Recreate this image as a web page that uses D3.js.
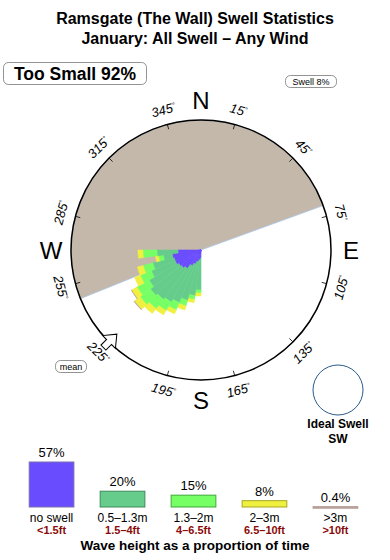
<!DOCTYPE html>
<html>
<head>
<meta charset="utf-8">
<script src="https://cdn.jsdelivr.net/npm/d3@7/dist/d3.min.js"></script>
<style>
  body { margin: 0; background: #fff; }
  svg text { font-family: "Liberation Sans", Arial, Helvetica, sans-serif; }
</style>
</head>
<body>
<div id="chartContainer"></div>
<script>
// swell direction bins (bearing the swell comes from, bin centre, degrees)
const bearings = [183.75, 191.25, 198.75, 206.25, 213.75, 221.25, 228.75, 236.25, 243.75, 251.25, 258.75, 266.25];
const binWidth = 7.5;

// stacked rose values per bin, one array per wave height band
const noSwell   = [6.2, 7.7, 9.2, 11.5, 13.8, 17.7, 19.2, 20.0, 21.5, 21.5, 22.3, 17.7];
const band05_13 = [24.6, 27.7, 30.8, 32.3, 32.3, 30.0, 30.0, 26.2, 20.0, 16.9, 6.9, 16.2];
const band13_2  = [2.3, 3.1, 4.6, 6.2, 7.7, 9.2, 10.0, 10.8, 9.2, 7.7, 3.8, 10.8];
const band2_3   = [2.3, 2.3, 3.1, 3.1, 3.8, 4.6, 5.4, 4.6, 4.6, 4.6, 2.3, 3.8];
const band3up   = [0, 0, 0, 0, 0, 0, 0.4, 0.3, 0, 0, 0, 0];

// legend
const bandLabels = ["no swell", "0.5\u20131.3m", "1.3\u20132m", "2\u20133m", ">3m"];
const bandFeet = ["<1.5ft", "1.5\u20134ft", "4\u20136.5ft", "6.5\u201310ft", ">10ft"];
const bandShare = [57, 20, 15, 8, 0.4];
const bandShareText = ["57%", "20%", "15%", "8%", "0.4%"];

// compass
const cardinals = ["N", "E", "S", "W"];
const cardinalAngles = [0, 90, 180, 270];
const degreeTicks = [15, 45, 75, 105, 135, 165, 195, 225, 255, 285, 315, 345];

// shadowed (land) sector, degrees clockwise from 248 to 70
const shadowFrom = 248;
const shadowTo = 430;
const meanDirection = 225;
const tooSmall = 92;
const swellShare = 8;

const width = 390, height = 560;
const cx = 201, cy = 250, R = 130;
const colors = ["#6a4cff", "#66cc8c", "#77ff66", "#f0f040", "#c8aaa0"];
const strokes = ["#7a70b0", "#3f8a5a", "#3fa83a", "#a8a820", "#b09890"];
const rad = (d) => d * Math.PI / 180;

const svg = d3.select("#chartContainer")
  .append("svg")
  .attr("width", width)
  .attr("height", height);

//Title
svg.append("text")
  .attr("x", 195).attr("y", 24)
  .attr("text-anchor", "middle")
  .attr("font-size", 16).attr("font-weight", "bold")
  .text("Ramsgate (The Wall) Swell Statistics");
svg.append("text")
  .attr("x", 195).attr("y", 44)
  .attr("text-anchor", "middle")
  .attr("font-size", 16).attr("font-weight", "bold")
  .text("January: All Swell \u2013 Any Wind");

//Boxed labels
function boxLabel(x, y, w, h, size, weight, txt) {
  svg.append("rect")
    .attr("x", x).attr("y", y).attr("width", w).attr("height", h)
    .attr("rx", 5).attr("fill", "#fff").attr("stroke", "#777").attr("stroke-width", 0.8);
  svg.append("text")
    .attr("x", x + w / 2).attr("y", y + h / 2)
    .attr("dy", "0.36em")
    .attr("text-anchor", "middle")
    .attr("font-size", size).attr("font-weight", weight)
    .text(txt);
}
boxLabel(3.5, 62.5, 143, 22, 17.5, "bold", `Too Small ${tooSmall}%`);
boxLabel(285.5, 75.5, 51, 12, 9, "normal", `Swell ${swellShare}%`);
boxLabel(55.5, 360.5, 31, 12, 9, "normal", "mean");

const g = svg.append("g").attr("transform", `translate(${cx},${cy})`);

//Shadow sector
const arc = d3.arc();
g.append("path")
  .attr("d", arc({ innerRadius: 0, outerRadius: R, startAngle: rad(shadowFrom), endAngle: rad(shadowTo) }))
  .attr("fill", "#c4b8ab")
  .attr("stroke", "#a9c8e8").attr("stroke-width", 0.8);

//Rose
const rScale = d3.scaleLinear().domain([0, 100]).range([0, R]);
const bands = [noSwell, band05_13, band13_2, band2_3, band3up];
const stack = [];
bearings.forEach((b, i) => {
  let acc = 0;
  bands.forEach((band, k) => {
    const v = band[i];
    if (v > 0) stack.push({ b, k, r0: acc, r1: acc + v });
    acc += v;
  });
});
g.append("g")
  .selectAll("path")
  .data(stack)
  .enter()
  .append("path")
  .attr("d", (d) => arc({
    innerRadius: rScale(d.r0), outerRadius: rScale(d.r1),
    startAngle: rad(d.b - binWidth / 2), endAngle: rad(d.b + binWidth / 2)
  }))
  .attr("fill", (d) => colors[d.k])
  .attr("stroke", (d) => colors[d.k])
  .attr("stroke-width", 0.6);

//Compass ring
g.append("circle")
  .attr("r", R).attr("fill", "none")
  .attr("stroke", "#000").attr("stroke-width", 1.5);

g.selectAll(".tick")
  .data(degreeTicks)
  .enter()
  .append("line")
  .attr("class", "tick")
  .attr("x1", (d) => (R - 5) * Math.sin(rad(d)))
  .attr("y1", (d) => -(R - 5) * Math.cos(rad(d)))
  .attr("x2", (d) => R * Math.sin(rad(d)))
  .attr("y2", (d) => -R * Math.cos(rad(d)))
  .attr("stroke", "#000").attr("stroke-width", 0.8);

const rot = (d) => d <= 90 ? d : (d < 270 ? d - 180 : d - 360);
const degLab = g.selectAll(".deg")
  .data(degreeTicks)
  .enter()
  .append("text")
  .attr("class", "deg")
  .attr("transform", (d) => `translate(${145 * Math.sin(rad(d))},${-145 * Math.cos(rad(d))}) rotate(${rot(d)})`)
  .attr("text-anchor", "middle")
  .attr("dy", "0.35em")
  .attr("font-size", 13)
  .attr("font-style", "italic");
degLab.append("tspan").text((d) => d);
degLab.append("tspan").attr("font-size", 7).attr("dy", "-0.6em").text("\u00b0");

g.selectAll(".card")
  .data(cardinals)
  .enter()
  .append("text")
  .attr("class", "card")
  .attr("x", (d, i) => 150 * Math.sin(rad(cardinalAngles[i])))
  .attr("y", (d, i) => -150 * Math.cos(rad(cardinalAngles[i])))
  .attr("dy", "0.36em")
  .attr("text-anchor", "middle")
  .attr("font-size", 24)
  .text((d) => d);

//Mean arrow (points toward the centre)
const arrowPts = [[0, -9], [9, 2], [3.5, 2], [3.5, 10], [-3.5, 10], [-3.5, 2], [-9, 2]];
g.append("path")
  .attr("d", d3.line()(arrowPts) + "Z")
  .attr("transform", `translate(${(R - 2) * Math.sin(rad(meanDirection))},${-(R - 2) * Math.cos(rad(meanDirection))}) rotate(${meanDirection + 180})`)
  .attr("fill", "#fff").attr("stroke", "#000").attr("stroke-width", 1);

//Ideal swell
svg.append("circle")
  .attr("cx", 338).attr("cy", 390).attr("r", 25)
  .attr("fill", "none").attr("stroke", "#2a5a8a").attr("stroke-width", 1);
svg.append("text")
  .attr("x", 338).attr("y", 428)
  .attr("text-anchor", "middle").attr("font-size", 12).attr("font-weight", "bold")
  .text("Ideal Swell");
svg.append("text")
  .attr("x", 338).attr("y", 443)
  .attr("text-anchor", "middle").attr("font-size", 12).attr("font-weight", "bold")
  .text("SW");

//Legend bars
const xBand = d3.scaleBand().domain(bandLabels).range([15, 372]).paddingInner(0.37).paddingOuter(0.2);
const yBar = d3.scaleLinear().domain([0, 57]).range([507, 462]);
const legend = svg.append("g");
legend.selectAll("rect")
  .data(bandShare)
  .enter()
  .append("rect")
  .attr("x", (d, i) => xBand(bandLabels[i]))
  .attr("y", (d) => yBar(d))
  .attr("width", xBand.bandwidth())
  .attr("height", (d) => Math.max(1.5, yBar(0) - yBar(d)))
  .attr("fill", (d, i) => colors[i])
  .attr("stroke", (d, i) => strokes[i]).attr("stroke-width", 1);
legend.selectAll(".pct")
  .data(bandShare)
  .enter()
  .append("text")
  .attr("class", "pct")
  .attr("x", (d, i) => xBand(bandLabels[i]) + xBand.bandwidth() / 2)
  .attr("y", (d) => yBar(d) - 5)
  .attr("text-anchor", "middle").attr("font-size", 13)
  .text((d, i) => bandShareText[i]);
legend.selectAll(".lab")
  .data(bandLabels)
  .enter()
  .append("text")
  .attr("class", "lab")
  .attr("x", (d) => xBand(d) + xBand.bandwidth() / 2)
  .attr("y", 522)
  .attr("text-anchor", "middle").attr("font-size", 12)
  .text((d) => d);
legend.selectAll(".ft")
  .data(bandFeet)
  .enter()
  .append("text")
  .attr("class", "ft")
  .attr("x", (d, i) => xBand(bandLabels[i]) + xBand.bandwidth() / 2)
  .attr("y", 534)
  .attr("text-anchor", "middle").attr("font-size", 11).attr("font-weight", "bold")
  .attr("fill", "#8b0a0a")
  .text((d) => d);
svg.append("text")
  .attr("x", 195).attr("y", 550)
  .attr("text-anchor", "middle").attr("font-size", 13.5).attr("font-weight", "bold")
  .text("Wave height as a proportion of time");
</script>
</body>
</html>
